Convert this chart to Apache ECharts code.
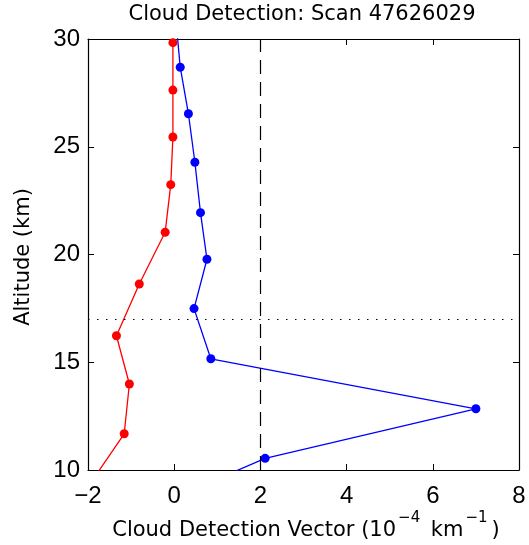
<!DOCTYPE html>
<html>
<head>
<meta charset="utf-8">
<style>
  html, body { margin: 0; padding: 0; background: #fff; }
  #chart { width: 529px; height: 545px; }
</style>
<script src="https://cdn.jsdelivr.net/npm/echarts@6/dist/echarts.min.js"></script>
</head>
<body>
<div id="chart"></div>
<script>
// Cloud detection profile values (10^-4 km^-1) against altitude (km)
const redAltitude  = [29.83, 27.63, 25.45, 23.24, 21.03, 18.63, 16.23, 13.99, 11.68, 9.40];
const redValue     = [-0.03, -0.03, -0.03, -0.08, -0.21, -0.81, -1.34, -1.04, -1.16, -1.94];
const blueAltitude = [30.86, 28.69, 26.53, 24.28, 21.94, 19.78, 17.49, 15.16, 12.84, 10.54, 8.30];
const blueValue    = [0.04, 0.14, 0.33, 0.48, 0.61, 0.76, 0.46, 0.85, 7.00, 2.11, -0.48];

// Reference lines
const thresholdValue = 2;
const levelAltitude = 17;

// Axis ranges
const xTicks = [-2, 0, 2, 4, 6, 8];
const yTicks = [10, 15, 20, 25, 30];

const pairs = (xs, ys) => xs.map((v, i) => [v, ys[i]]);

const chart = echarts.init(document.getElementById('chart'), null, { renderer: 'canvas' });

const tickFont = { color: '#000', fontFamily: 'Liberation Sans', fontSize: 24 };
const axisLineStyle = { show: true, onZero: false, lineStyle: { color: '#000', width: 1.2 } };
const tickStyle = { show: true, inside: true, length: 6, lineStyle: { color: '#000', width: 1 } };
const labelFont = '"DejaVu Sans"';

chart.setOption({
  animation: false,
  backgroundColor: '#fff',
  grid: { left: 88, top: 39, right: 10, bottom: 75, containLabel: false },
  xAxis: [
    {
      type: 'value', min: xTicks[0], max: xTicks[xTicks.length - 1], interval: 2,
      position: 'bottom',
      axisLine: axisLineStyle, axisTick: tickStyle, splitLine: { show: false },
      axisLabel: Object.assign({ margin: 14, formatter: v => (v < 0 ? '\u2212' + Math.abs(v) : String(v)) }, tickFont)
    },
    {
      type: 'value', min: xTicks[0], max: xTicks[xTicks.length - 1], interval: 2,
      position: 'top',
      axisLine: axisLineStyle, axisTick: tickStyle, splitLine: { show: false },
      axisLabel: { show: false }
    }
  ],
  yAxis: [
    {
      type: 'value', min: yTicks[0], max: yTicks[yTicks.length - 1], interval: 5,
      position: 'left',
      axisLine: axisLineStyle, axisTick: tickStyle, splitLine: { show: false },
      axisLabel: Object.assign({ margin: 8 }, tickFont)
    },
    {
      type: 'value', min: yTicks[0], max: yTicks[yTicks.length - 1], interval: 5,
      position: 'right',
      axisLine: axisLineStyle, axisTick: tickStyle, splitLine: { show: false },
      axisLabel: { show: false }
    }
  ],
  series: [
    {
      type: 'line', name: 'reference', data: [], silent: true,
      markLine: {
        silent: true, symbol: ['none', 'none'], label: { show: false },
        data: [
          { xAxis: thresholdValue, lineStyle: { color: '#000', width: 1.2, type: [14, 8] } },
          { yAxis: levelAltitude, lineStyle: { color: '#000', width: 1.2, type: [1.5, 7.5] } }
        ]
      }
    },
    {
      type: 'line', name: 'red', data: pairs(redValue, redAltitude),
      symbol: 'circle', symbolSize: 9, clip: true,
      lineStyle: { color: '#ff0000', width: 1.3 },
      itemStyle: { color: '#ff0000' }
    },
    {
      type: 'line', name: 'blue', data: pairs(blueValue, blueAltitude),
      symbol: 'circle', symbolSize: 9, clip: true,
      lineStyle: { color: '#0000ff', width: 1.3 },
      itemStyle: { color: '#0000ff' }
    }
  ],
  graphic: [
    {
      type: 'text', x: 302, y: 15,
      style: {
        text: 'Cloud Detection: Scan 47626029',
        fill: '#000', font: '21px ' + labelFont,
        align: 'center', verticalAlign: 'middle'
      }
    },
    {
      type: 'text', x: 24, y: 257, rotation: Math.PI / 2,
      style: {
        text: 'Altitude (km)',
        fill: '#000', font: '21px ' + labelFont,
        align: 'center', verticalAlign: 'middle'
      }
    },
    {
      type: 'text', x: 306, y: 541,
      style: {
        text: '{n|Cloud Detection Vector (10}{s|\u22124}{n| km}{s|\u22121}{n|)}',
        fill: '#000',
        align: 'center', verticalAlign: 'bottom',
        rich: {
          n: { fontFamily: 'DejaVu Sans', fontSize: 21, lineHeight: 30, verticalAlign: 'bottom', fill: '#000' },
          s: { fontFamily: 'DejaVu Sans', fontSize: 15, lineHeight: 30, verticalAlign: 'top', fill: '#000', padding: [0, 4, 0, 2] }
        }
      }
    }
  ]
});
</script>
</body>
</html>
